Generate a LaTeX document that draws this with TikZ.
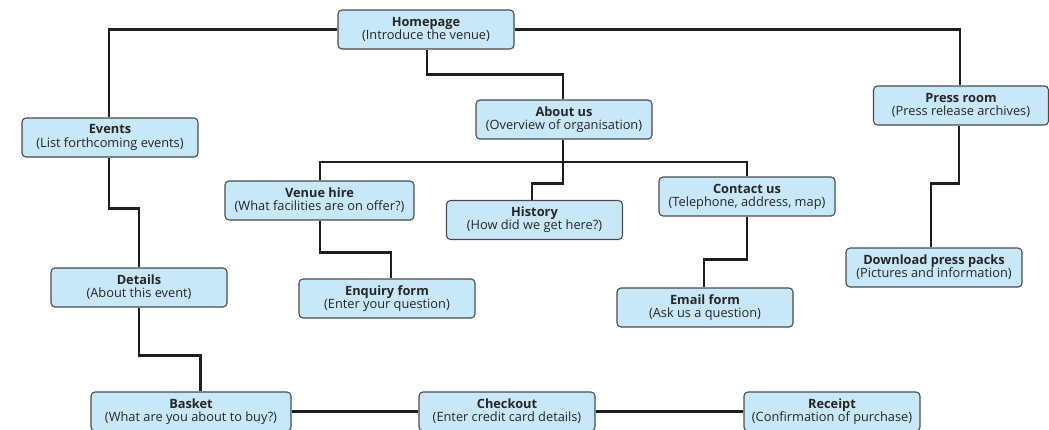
\documentclass[tikz,border=0pt]{standalone}
\usepackage{fontspec}
\setmainfont{Open Sans}
\usetikzlibrary{backgrounds}
\definecolor{boxfill}{HTML}{C8E8F9}
\definecolor{boxdraw}{HTML}{4A4A4A}
\definecolor{txt}{HTML}{262626}
\definecolor{wire}{HTML}{1E1E1E}
\tikzset{
  pagebox/.style={rectangle, rounded corners=4, draw=boxdraw, fill=boxfill, line width=1.1pt,
    minimum width=176, minimum height=39, inner sep=0pt, align=center, text=txt,
    font=\fontsize{12.8}{13.2}\selectfont},
  wirestyle/.style={draw=wire, line width=2.3pt}
}
\newcommand{\bx}[2]{\textbf{#1}\\#2}
\begin{document}
\begin{tikzpicture}[x=1pt,y=-1pt]
\useasboundingbox (0,0) rectangle (1049,429);
\coordinate (bar) at (563,162);
% nodes
\node[pagebox] (home) at (426,29.5) {\bx{Homepage}{(Introduce the venue)}};
\node[pagebox] (events) at (110,137.5) {\bx{Events}{(List forthcoming events)}};
\node[pagebox] (details) at (139,287.5) {\bx{Details}{(About this event)}};
\node[pagebox] (about) at (564,119.5) {\bx{About us}{(Overview of organisation)}};
\node[pagebox, minimum width=189] (venue) at (319.5,200.5) {\bx{Venue hire}{(What facilities are on offer?)}};
\node[pagebox] (history) at (534.5,220) {\bx{History}{(How did we get here?)}};
\node[pagebox] (enquiry) at (387,298.5) {\bx{Enquiry form}{(Enter your question)}};
\node[pagebox] (contact) at (747,196.5) {\bx{Contact us}{(Telephone, address, map)}};
\node[pagebox] (email) at (705,307.5) {\bx{Email form}{(Ask us a question)}};
\node[pagebox, minimum width=175] (press) at (961,105.5) {\bx{Press room}{(Press release archives)}};
\node[pagebox] (download) at (934,267.5) {\bx{Download press packs}{(Pictures and information)}};
\node[pagebox, minimum width=200] (basket) at (191,411.5) {\bx{Basket}{(What are you about to buy?)}};
\node[pagebox] (checkout) at (507,411.5) {\bx{Checkout}{(Enter credit card details)}};
\node[pagebox] (receipt) at (832,411.5) {\bx{Receipt}{(Confirmation of purchase)}};
% wires
\begin{scope}[on background layer]
\fill[white] (0,0) rectangle (1049,429);
\draw[wirestyle] (home.west) -| ([xshift=-1]events.north);
\draw[wirestyle] (home.east) -| ([xshift=-1]press.north);
\draw[wirestyle] ([xshift=1]home.south) -- ++(0,25) -| ([xshift=-1]about.north);
\draw[wirestyle] ([xshift=-1]about.south) -- ++(0,44) -| ([xshift=-2.5]history.north);
\draw[wirestyle] ([xshift=0.5]venue.north) |- (bar) -| (contact.north);
\draw[wirestyle] ([xshift=0.5]venue.south) -- ++(0,32) -| ([xshift=4]enquiry.north);
\draw[wirestyle] (contact.south) -- ++(0,43) -| ([xshift=-1]email.north);
\draw[wirestyle] ([xshift=-1]events.south) -- ++(0,51) -| (details.north);
\draw[wirestyle] (details.south) -- ++(0,48) -| ([xshift=9.5]basket.north);
\draw[wirestyle] ([xshift=-2]press.south) -- ++(0,58) -| ([xshift=-3]download.north);
\draw[wirestyle] (basket.east) -- (checkout.west);
\draw[wirestyle] (checkout.east) -- (receipt.west);
\end{scope}
\end{tikzpicture}
\end{document}
